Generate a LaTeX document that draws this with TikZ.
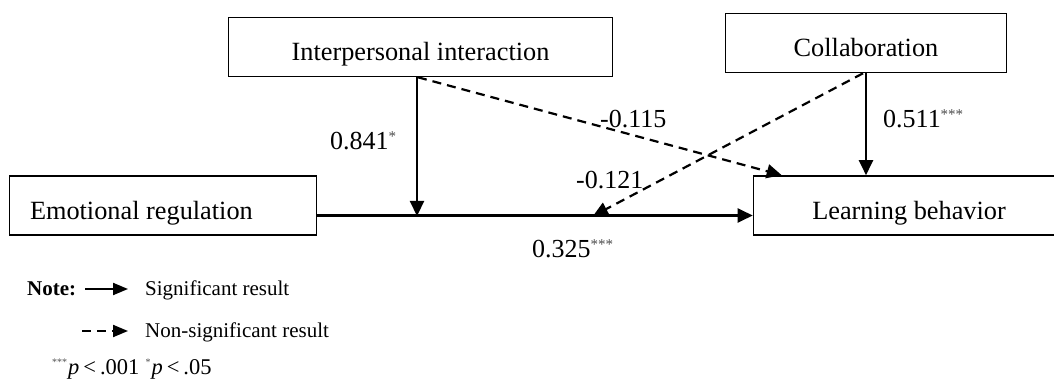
\documentclass[tikz,border=0pt]{standalone}
\usepackage{fontspec}
\setmainfont{Liberation Serif}
\usetikzlibrary{arrows.meta}
\newcommand\sigstar[2][8pt]{\raisebox{#1}{\fontsize{15}{15}\selectfont\color{black!70}#2}}
\newcommand\legstar[1]{\raisebox{9pt}{\fontsize{10}{10}\selectfont\color{black!70}#1}}
\begin{document}
\begin{tikzpicture}[x=1pt,y=-1pt,
  box/.style={draw,line width=1.6pt,minimum width=#1,minimum height=59pt,inner sep=0pt,
    text height=28pt,text depth=0pt,font=\fontsize{26.3}{30}\selectfont},
  lab/.style={inner sep=0pt,anchor=base west,font=\fontsize{26}{30}\selectfont},
  leg/.style={inner sep=0pt,anchor=base west,font=\fontsize{21}{24}\selectfont},
  sig/.style={line width=2.2pt,-{Triangle[length=15pt,width=14pt]}},
  nsig/.style={sig,dash pattern=on 9pt off 6pt},
  legsig/.style={line width=2pt,-{Triangle[length=15pt,width=12pt]}},
  legnsig/.style={legsig,dash pattern=on 9pt off 6pt}]
\useasboundingbox (0,0) rectangle (1054,379);
\clip (0,0) rectangle (1054,379);
% boxes
\node[box=384pt] (II) at (420.5,47) {Interpersonal interaction};
\node[box=281pt] (Co) at (866,43) {Collaboration};
\node[box=307pt,text width=266pt,align=flush left] (ER) at (163,205.5) {Emotional regulation};
\node[box=311pt] (LB) at (909,205.5) {Learning behavior};
% junction points on the main path
\coordinate (m1) at (417,216);
\coordinate (m2) at (593,216);
% main path
\draw[sig] ([yshift=-10pt]ER.east) -- ([yshift=-10pt]LB.west);
% moderators
\draw[sig] ([xshift=-3.5pt]II.south) -- (m1);
\draw[nsig] ([xshift=-2.5pt]II.south) -- ([xshift=29pt]LB.north west);
\draw[sig] (Co.south) -- (Co.south |- LB.north);
\draw[nsig] ([xshift=-3pt]Co.south) -- (m2);
% labels
\node[lab] (l1) at (330,150) {0.841\sigstar{*}};
\node[lab] (l2) at (600,128) {-0.115};
\node[lab] (l3) at (883,128) {0.511\sigstar{***}};
\node[lab] (l4) at (576,189) {-0.121};
\node[lab] (l5) at (532,258) {0.325\sigstar{***}};
% legend
\node[leg] (note) at (27,295) {\textbf{Note:}};
\coordinate (a1) at (85,289);
\coordinate (a2) at (128,289);
\draw[legsig] (a1) -- (a2);
\node[leg] (t1) at (145,295) {Significant result};
\coordinate (b1) at (82,331);
\coordinate (b2) at (128,331);
\draw[legnsig] (b1) -- (b2);
\node[leg] (t2) at (145,337) {Non-significant result};
\node[leg,font=\fontsize{22.5}{26}\selectfont] (t3) at (52,374) {\legstar{***}\hspace{1pt}\textit{p}\hspace{4pt}<\hspace{4pt}.001\hspace{6pt}\legstar{*}\hspace{1pt}\textit{p}\hspace{4pt}<\hspace{4pt}.05};
\end{tikzpicture}
\end{document}
